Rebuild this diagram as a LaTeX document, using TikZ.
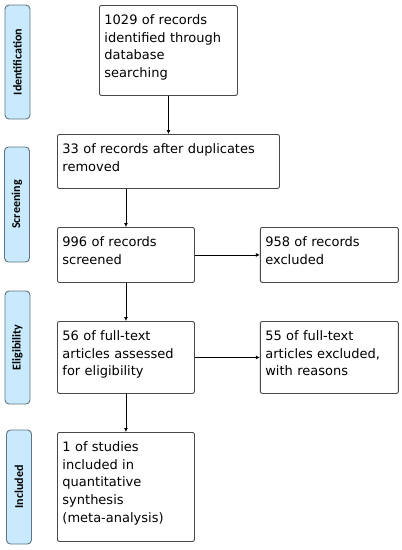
\documentclass[tikz,border=0pt]{standalone}
\usepackage{fontspec}
\setmainfont{DejaVu Sans}
\newfontfamily\phasefont{Carlito}
\usetikzlibrary{arrows.meta,positioning}
\definecolor{boxline}{RGB}{72,72,72}
\definecolor{phasefill}{RGB}{201,233,252}
\definecolor{phaseline}{RGB}{96,116,130}

\tikzset{
  stepbox/.style={draw=boxline,line width=0.9pt,rounded corners=2pt,anchor=north west,
    align=left,inner xsep=5pt,inner ysep=0pt,text height=19pt,
    font=\fontsize{13}{17.7}\selectfont},
  phase/.style={draw=phaseline,fill=phasefill,line width=0.9pt,rounded corners=4pt,
    rotate=90,minimum height=25pt,inner sep=0pt,font=\phasefont\bfseries\fontsize{12}{14}\selectfont}
}

\begin{document}
\begin{tikzpicture}[x=1pt,y=-1pt,>={Latex[length=4pt,width=4pt]}, node distance=65pt]
  \useasboundingbox (0,0) rectangle (402,550);
  % phases
  \node[phase,minimum width=114pt] (ident) at (17.5,62) {Identification};
  \node[phase,minimum width=115pt] (screen) at (17,204.5) {Screening};
  \node[phase,minimum width=113pt] (elig) at (17.5,347.5) {Eligibility};
  \node[phase,minimum width=114pt] (incl) at (19,487) {Included};
  % flow boxes
  \node[stepbox,text width=128pt,text depth=71pt] (found) at (99,5) {1029 of records\\identified through\\database\\searching};
  \node[stepbox,text width=212pt,text depth=35pt] (dedup) at (57,134) {33 of records after duplicates\\removed};
  \node[stepbox,text width=127pt,text depth=36pt] (screened) at (57,227) {996 of records\\screened};
  \node[stepbox,text width=128pt,text depth=36pt,anchor=west,right=of screened] (excl) {958 of records\\excluded};
  \node[stepbox,text width=127pt,text depth=53pt] (full) at (57,321) {56 of full-text\\articles assessed\\for eligibility};
  \node[stepbox,text width=128pt,text depth=53pt,anchor=west,right=of full] (fullexcl) {55 of full-text\\articles excluded,\\with reasons};
  \node[stepbox,text width=127pt,text depth=90pt] (final) at (57,432) {1 of studies\\included in\\quantitative\\synthesis\\(meta-analysis)};
  % arrows
  \draw[->,line width=0.9pt] (found) -- (dedup);
  \draw[->,line width=0.9pt] (screened.north |- dedup.south) -- (screened);
  \draw[->,line width=0.9pt] (screened) -- (excl);
  \draw[->,line width=0.9pt] (screened) -- (full);
  \draw[->,line width=0.9pt] (full) -- (fullexcl);
  \draw[->,line width=0.9pt] (full) -- (final);
\end{tikzpicture}
\end{document}
